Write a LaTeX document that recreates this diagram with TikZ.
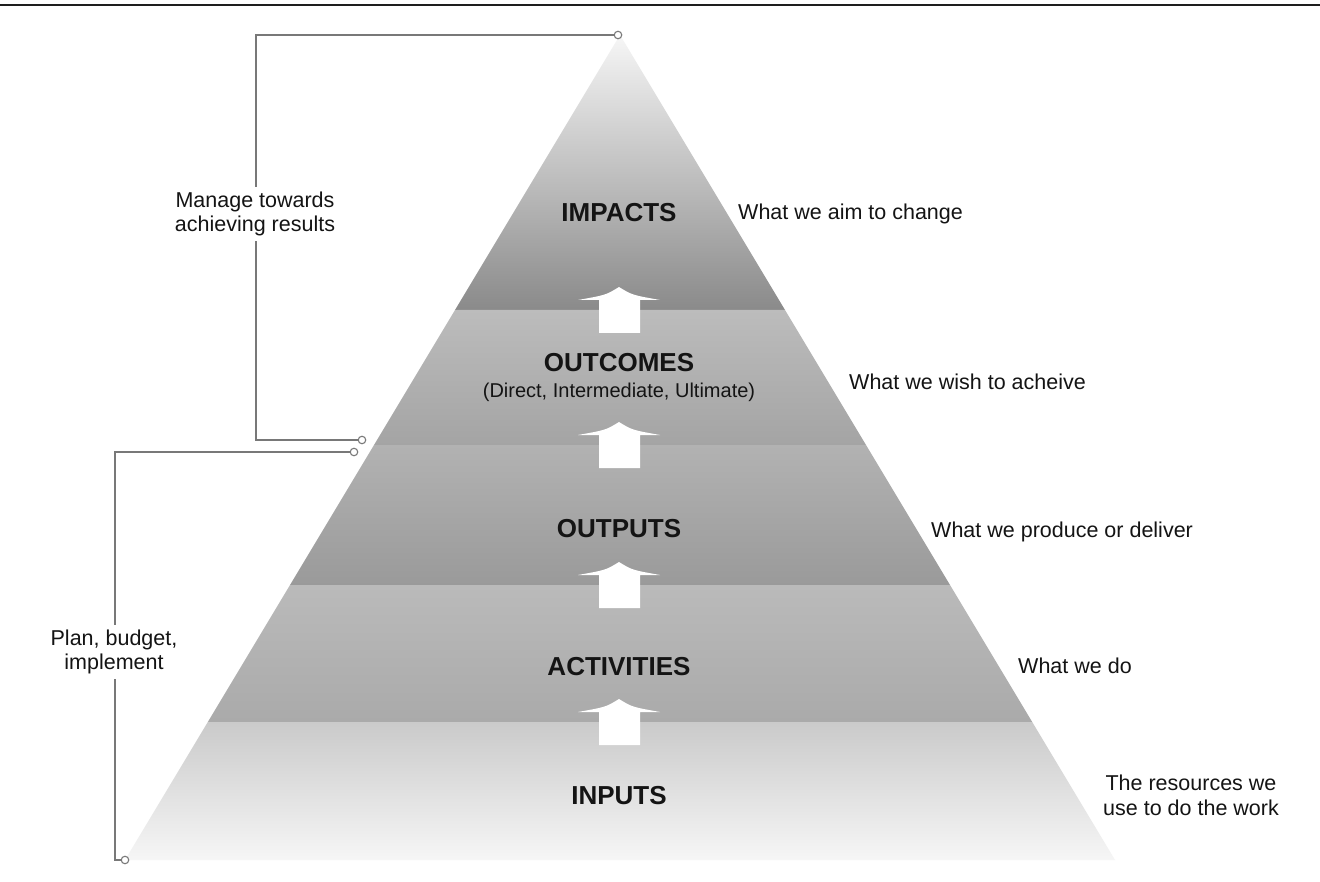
\documentclass[tikz,border=0pt]{standalone}
\usepackage{fontspec}
\setmainfont{Liberation Sans}
\definecolor{imptop}{RGB}{246,246,246}
\definecolor{impmid}{RGB}{176,176,176}
\definecolor{impbot}{RGB}{138,138,138}
\definecolor{outctop}{RGB}{188,188,188}
\definecolor{outcbot}{RGB}{164,164,164}
\definecolor{outptop}{RGB}{178,178,178}
\definecolor{outpbot}{RGB}{154,154,154}
\definecolor{acttop}{RGB}{186,186,186}
\definecolor{actbot}{RGB}{170,170,170}
\definecolor{inptop}{RGB}{202,202,202}
\definecolor{inpbot}{RGB}{246,246,246}
\definecolor{brcol}{RGB}{120,120,120}
\definecolor{rulecol}{RGB}{30,30,30}
\definecolor{txt}{RGB}{20,20,20}
\tikzset{
  bandlabel/.style={font=\fontsize{26}{30}\selectfont\bfseries, text=txt, anchor=base, inner sep=0pt},
  sublabel/.style={font=\fontsize{20}{24}\selectfont, text=txt, anchor=base, inner sep=0pt},
  sidelabel/.style={font=\fontsize{21.5}{25}\selectfont, text=txt, anchor=base west, inner sep=0pt},
  sidetwo/.style={font=\fontsize{21.5}{25}\selectfont, text=txt, align=center, inner sep=0pt},
  brlabel/.style={font=\fontsize{21.5}{24.5}\selectfont, text=txt, align=center, fill=white, inner xsep=3pt, inner ysep=5pt},
  bracket/.style={draw=brcol, line width=1.4pt},
  endring/.style={circle, draw=brcol, fill=white, line width=1.1pt, inner sep=0pt, minimum size=7.5pt},
  uparrowshape/.style={fill=white, draw=none},
}
\newcommand{\blockuparrow}[1]{%
  \fill[uparrowshape] (619,#1-23) .. controls (606,#1-15) .. (578,#1-10) -- (599,#1-10) -- (599,#1+23)
    -- (640,#1+23) -- (640,#1-10) -- (660,#1-10) .. controls (632,#1-15) .. (619,#1-23) -- cycle;}
\begin{document}
\begin{tikzpicture}[x=1pt,y=-1pt]
\useasboundingbox (0,0) rectangle (1320,882);
\fill[white] (0,0) rectangle (1320,882);
% top rule
\coordinate (ruleL) at (0,5);
\coordinate (ruleR) at (1320,5);
\draw[rulecol, line width=2.6pt] (ruleL) -- (ruleR);
% pyramid bands
\shade[top color=imptop, middle color=impmid, bottom color=impbot] (620,35) -- (785,310) -- (455,310) -- cycle;
\shade[top color=outctop, bottom color=outcbot] (455,310) -- (785,310) -- (866,445) -- (374,445) -- cycle;
\shade[top color=outptop, bottom color=outpbot] (374,445) -- (866,445) -- (950,585) -- (290,585) -- cycle;
\shade[top color=acttop, bottom color=actbot] (290,585) -- (950,585) -- (1032.2,722) -- (207.8,722) -- cycle;
\shade[top color=inptop, bottom color=inpbot] (207.8,722) -- (1032.2,722) -- (1115,860) -- (125,860) -- cycle;
% arrows
\blockuparrow{310}
\blockuparrow{445}
\blockuparrow{585}
\blockuparrow{722}
% brackets
\node[endring] (r1) at (618,35) {};
\node[endring] (r2) at (362,440) {};
\coordinate (c1) at (256,35);
\coordinate (c2) at (256,440);
\draw[bracket] (r1.west) -- (c1) -- (c2) -- (r2.west);
\node[endring] (r3) at (354,452) {};
\node[endring] (r4) at (125,860) {};
\coordinate (c3) at (115,452);
\coordinate (c4) at (115,860);
\draw[bracket] (r3.west) -- (c3) -- (c4) -- (r4.west);
\node[brlabel] (manage) at (255,214) {Manage towards\\achieving results};
\node[brlabel] (plan) at (114,652) {Plan, budget,\\implement};
% band labels
\node[bandlabel] (impacts) at (619,222) {IMPACTS};
\node[bandlabel] (outcomes) at (619,372) {OUTCOMES};
\node[sublabel] (outcsub) at (619,398) {(Direct, Intermediate, Ultimate)};
\node[bandlabel] (outputs) at (619,537) {OUTPUTS};
\node[bandlabel] (activities) at (619,675) {ACTIVITIES};
\node[bandlabel] (inputs) at (619,804) {INPUTS};
% side labels
\node[sidelabel] (s1) at (738,220) {What we aim to change};
\node[sidelabel] (s2) at (849,390) {What we wish to acheive};
\node[sidelabel] (s3) at (931,537) {What we produce or deliver};
\node[sidelabel] (s4) at (1018,673) {What we do};
\node[sidetwo] (s5) at (1191,795) {The resources we\\use to do the work};
\end{tikzpicture}
\end{document}
